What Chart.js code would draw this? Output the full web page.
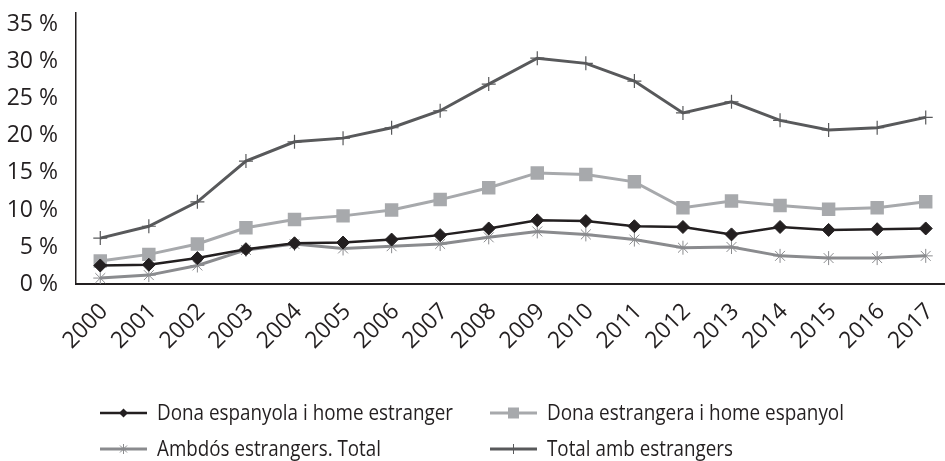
<!DOCTYPE html>
<html>
<head>
<meta charset="utf-8">
<script src="https://cdn.jsdelivr.net/npm/chart.js@4.4.1/dist/chart.umd.min.js"></script>
<style>
  html, body { margin: 0; padding: 0; background: #fff; overflow: hidden; }
  canvas { display: block; }
</style>
</head>
<body>
<canvas id="grafic" width="960" height="461"></canvas>
<script>
// dades del gràfic (% sobre el total)
const anys = ['2000', '2001', '2002', '2003', '2004', '2005', '2006', '2007', '2008',
  '2009', '2010', '2011', '2012', '2013', '2014', '2015', '2016', '2017'];
const donaEspanyola = [2.5, 2.6, 3.5, 4.7, 5.5, 5.6, 6.0, 6.6, 7.5, 8.6, 8.5, 7.8, 7.7, 6.7, 7.7, 7.3, 7.4, 7.5];
const donaEstrangera = [3.1, 4.0, 5.4, 7.6, 8.7, 9.2, 10.0, 11.4, 13.0, 15.0, 14.8, 13.8, 10.3, 11.2, 10.6, 10.1, 10.3, 11.1];
const ambdosEstrangers = [0.8, 1.2, 2.5, 4.6, 5.4, 4.8, 5.1, 5.4, 6.3, 7.1, 6.7, 6.0, 4.9, 5.0, 3.8, 3.5, 3.5, 3.8];
const totalEstrangers = [6.2, 7.8, 11.1, 16.6, 19.2, 19.7, 21.1, 23.4, 27.0, 30.5, 29.8, 27.4, 23.1, 24.6, 22.1, 20.8, 21.1, 22.5];
const etiquetes = ['Dona espanyola i home estranger', 'Dona estrangera i home espanyol',
  'Ambdós estrangers. Total', 'Total amb estrangers'];
const ticksY = [0, 5, 10, 15, 20, 25, 30, 35];

const TEXT = '#231f20';

// marcador petit per a la llegenda
function dibuixaMarcador(ctx, estil, x, y, r) {
  ctx.beginPath();
  if (estil === 'rectRot') {
    ctx.moveTo(x, y - r); ctx.lineTo(x + r, y); ctx.lineTo(x, y + r); ctx.lineTo(x - r, y);
    ctx.closePath(); ctx.fill();
  } else if (estil === 'rect') {
    ctx.rect(x - r, y - r, 2 * r, 2 * r); ctx.fill();
  } else if (estil === 'star') {
    for (let k = 0; k < 4; k++) {
      const a = k * Math.PI / 4;
      ctx.moveTo(x - r * Math.cos(a), y - r * Math.sin(a));
      ctx.lineTo(x + r * Math.cos(a), y + r * Math.sin(a));
    }
    ctx.lineWidth = 1; ctx.stroke();
  } else if (estil === 'cross') {
    ctx.moveTo(x, y - r); ctx.lineTo(x, y + r);
    ctx.lineWidth = 1; ctx.stroke();
  }
}

const legendaPlugin = {
  id: 'legenda',
  afterDraw(chart) {
    const ctx = chart.ctx;
    const pos = [[100, 413], [490, 413], [100, 449], [490, 449]];
    const ample = [296, 297, 224, 186];
    const midaMarca = [4.5, 5.5, 5, 5];
    chart.data.datasets.forEach((ds, i) => {
      const [x, y] = pos[i];
      ctx.save();
      ctx.strokeStyle = ds.borderColor;
      ctx.fillStyle = ds.backgroundColor;
      ctx.lineWidth = ds.borderWidth;
      ctx.beginPath();
      ctx.moveTo(x, y);
      ctx.lineTo(x + 47, y);
      ctx.stroke();
      ctx.strokeStyle = ds.pointBorderColor || ds.borderColor;
      dibuixaMarcador(ctx, ds.pointStyle, x + 23.5, y, midaMarca[i]);
      ctx.fillStyle = TEXT;
      ctx.font = '21px "Open Sans"';
      ctx.textBaseline = 'middle';
      ctx.fillText(etiquetes[i], x + 57, y + 1, ample[i]);
      ctx.restore();
    });
  }
};

new Chart(document.getElementById('grafic'), {
  type: 'line',
  data: {
    labels: anys,
    datasets: [
      {
        label: etiquetes[0],
        data: donaEspanyola,
        borderColor: '#231f20',
        backgroundColor: '#231f20',
        borderWidth: 2.5,
        pointStyle: 'rectRot',
        pointRadius: 6.5,
        pointBorderWidth: 1
      },
      {
        label: etiquetes[1],
        data: donaEstrangera,
        borderColor: '#a7a9ac',
        backgroundColor: '#a7a9ac',
        borderWidth: 3,
        pointStyle: 'rect',
        pointRadius: 9.5,
        pointBorderWidth: 0
      },
      {
        label: etiquetes[2],
        data: ambdosEstrangers,
        borderColor: '#8a8b8e',
        backgroundColor: '#8a8b8e',
        pointBorderColor: '#8a8b8e',
        borderWidth: 3,
        pointStyle: 'star',
        pointRadius: 7,
        pointBorderWidth: 1
      },
      {
        label: etiquetes[3],
        data: totalEstrangers,
        borderColor: '#58595b',
        backgroundColor: '#58595b',
        borderWidth: 3,
        pointStyle: 'cross',
        pointRadius: 7,
        pointBorderWidth: 1.2
      }
    ]
  },
  options: {
    responsive: false,
    animation: false,
    events: [],
    layout: { padding: { top: 13, right: 10, left: 0, bottom: 0 } },
    plugins: {
      legend: { display: false },
      tooltip: { enabled: false }
    },
    elements: { line: { tension: 0 } },
    scales: {
      x: {
        offset: true,
        grid: { display: false, drawTicks: false },
        border: { display: true, color: '#231f20', width: 2 },
        ticks: {
          color: TEXT,
          font: { family: '"Open Sans"', size: 23 },
          minRotation: 45,
          maxRotation: 45,
          padding: 14,
          labelOffset: 4
        },
        afterFit: scale => {
          scale.height = 177;
          scale.paddingLeft = 0;
          scale.paddingRight = 0;
        }
      },
      y: {
        min: 0,
        max: 36.6,
        grid: { display: false, drawTicks: false },
        border: { display: true, color: '#231f20', width: 1.5 },
        ticks: {
          color: TEXT,
          font: { family: '"Open Sans"', size: 23 },
          padding: 18,
          callback: v => v + ' %'
        },
        afterBuildTicks: scale => {
          scale.ticks = ticksY.map(v => ({ value: v }));
        },
        afterFit: scale => {
          scale.width = 76;
          scale.paddingTop = 0;
          scale.paddingBottom = 0;
        }
      }
    }
  },
  plugins: [legendaPlugin]
});
</script>
</body>
</html>
